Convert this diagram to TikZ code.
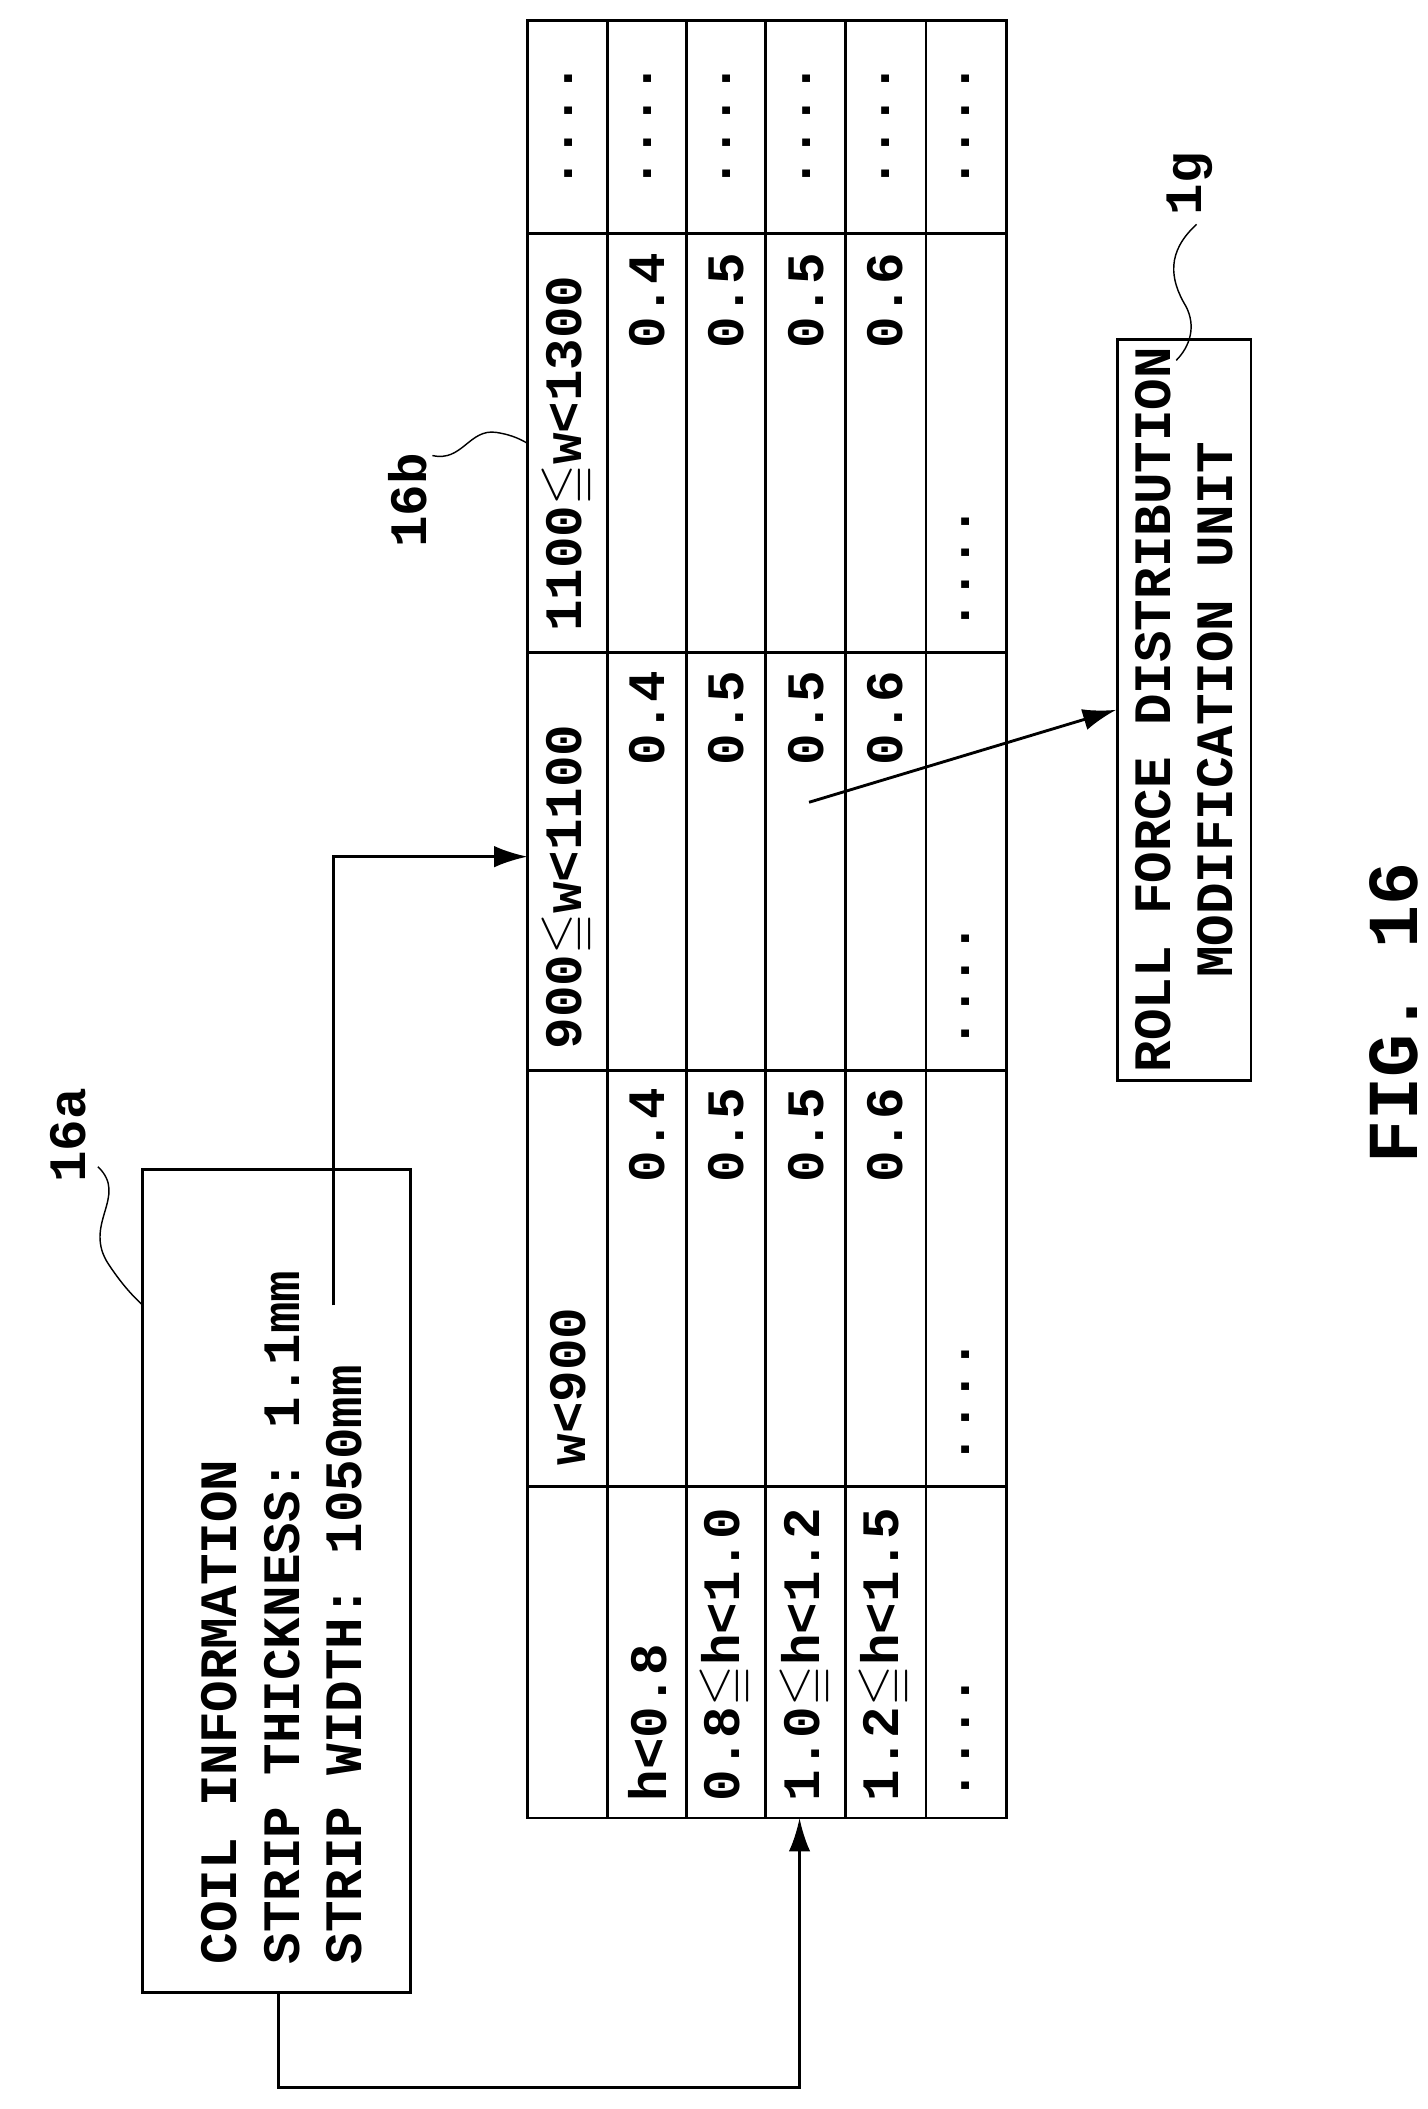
\documentclass[tikz,border=0pt]{standalone}
\usepackage{amssymb}
\usepackage{fontspec}
\setmainfont{Liberation Mono}
\usetikzlibrary{positioning, arrows.meta}
\newcommand{\leqs}{$\leqq$}

\tikzset{
    txt/.style={font=\fontsize{22}{26}\selectfont\bfseries, rotate=90, inner sep=0pt},
    box/.style={draw, line width=1.2pt},
    link/.style={line width=1.2pt},
    tip/.style={-{Latex[length=14pt, width=9pt]}},
    squig/.style={line width=0.6pt}
}

\begin{document}
\begin{tikzpicture}[x=0.02cm, y=-0.02cm]
    \useasboundingbox (0,0) rectangle (1050,1551);

    % Table grid
    \draw[link] (388,15) rectangle (740,1337);
    \foreach \xx in {447,505,563,622,681}
        \draw[link] (\xx,15) -- (\xx,1337);
    \foreach \yy in {172,480,787,1093}
        \draw[link] (388,\yy) -- (740,\yy);

    % Header row
    \node[txt, anchor=west] (hw1) at (418,1078) {w<900};
    \node[txt, anchor=west] (hw2) at (418,772) {900\leqs w<1100};
    \node[txt, anchor=west] (hw3) at (418,465) {1100\leqs w<1300};
    \foreach \xx in {418,476,534,593,651,710}
        \node[txt] at (\xx,93) {....};

    % Thickness classes
    \node[txt, anchor=west] (h1) at (476,1325) {h<0.8};
    \node[txt, anchor=west] (h2) at (534,1325) {0.8\leqs h<1.0};
    \node[txt, anchor=west] (h3) at (593,1325) {1.0\leqs h<1.2};
    \node[txt, anchor=west] (h4) at (651,1325) {1.2\leqs h<1.5};
    \node[txt, anchor=west] (h5) at (710,1325) {....};

    % Values
    \foreach \xx/\v in {476/0.4, 534/0.5, 593/0.5, 651/0.6} {
        \node[txt, anchor=east] at (\xx,800) {\v};
        \node[txt, anchor=east] at (\xx,493) {\v};
        \node[txt, anchor=east] at (\xx,186) {\v};
    }
    \foreach \yy in {1078,772,465}
        \node[txt, anchor=west] at (710,\yy) {....};

    % Coil information
    \draw[box] (105,860) rectangle (302,1465);
    \node[txt, anchor=north west, align=left] (info) at (148,1445)
        {COIL INFORMATION\\STRIP THICKNESS: 1.1mm\\STRIP WIDTH: 1050mm};
    \coordinate (infoend) at (245,960);
    \coordinate (infobot) at (205,1465);

    % Roll force unit
    \node[box, minimum width=515*0.02cm, minimum height=98*0.02cm, rotate=90,
          font=\fontsize{22}{26}\selectfont\bfseries, align=center] (unit) at (871,522)
        {ROLL FORCE DISTRIBUTION\\MODIFICATION UNIT};

    % Connectors
    \draw[link, tip] (infoend) -- (245,630) -- (388,630);
    \draw[link, tip] (infobot) -- (205,1535) -- (588,1535) -- (588,1337);
    \draw[link, tip] (595,590) -- (unit.north);

    % Reference labels
    \node[txt] (l16a) at (50,835) {16a};
    \draw[squig] (72,858) .. controls (95,880) and (60,900) .. (80,930) .. controls (92,948) and (100,955) .. (105,960);
    \node[txt] (l16b) at (300,368) {16b};
    \draw[squig] (318,335) .. controls (340,340) and (345,315) .. (365,318) .. controls (378,320) and (384,324) .. (388,326);
    \node[txt] (l1g) at (875,135) {1g};
    \draw[squig] (880,165) .. controls (858,185) and (860,205) .. (872,225) .. controls (880,240) and (875,255) .. (865,265);
    \node[txt, font=\fontsize{30}{32}\selectfont\bfseries] (fig) at (1025,745) {FIG. 16};
\end{tikzpicture}
\end{document}
